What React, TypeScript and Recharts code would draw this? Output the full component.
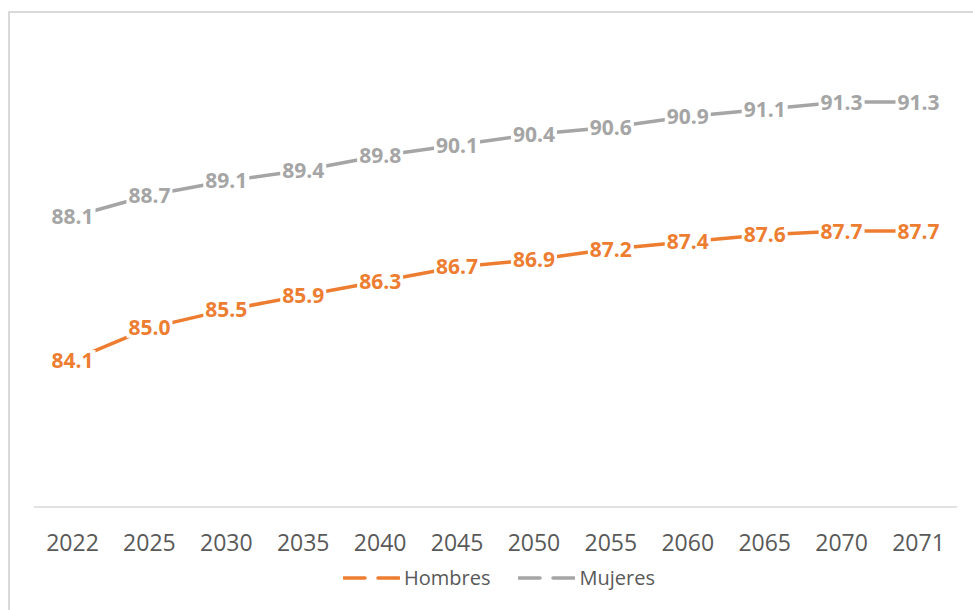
import React from 'react';
import { LineChart, Line, XAxis, YAxis, LabelList } from 'recharts';

const years = ['2022', '2025', '2030', '2035', '2040', '2045', '2050', '2055', '2060', '2065', '2070', '2071'];
const hombres = [84.1, 85.0, 85.5, 85.9, 86.3, 86.7, 86.9, 87.2, 87.4, 87.6, 87.7, 87.7];
const mujeres = [88.1, 88.7, 89.1, 89.4, 89.8, 90.1, 90.4, 90.6, 90.9, 91.1, 91.3, 91.3];

const data = years.map((y, i) => ({ year: y, Hombres: hombres[i], Mujeres: mujeres[i] }));

const ORANGE = '#ED7D31';
const GRAY = '#A5A5A5';
const FONT = '"Open Sans", sans-serif';

const makeLabel = (color: string) => (props: any) => {
  const { x, y, value } = props;
  const w = 46;
  const h = 20;
  return (
    <g>
      <rect x={x - w / 2} y={y - h / 2} width={w} height={h} fill="#ffffff" />
      <text
        x={x}
        y={y}
        dy={7.5}
        textAnchor="middle"
        fill={color}
        fontFamily={FONT}
        fontWeight={700}
        fontSize={21}
      >
        {Number(value).toFixed(1)}
      </text>
    </g>
  );
};

const Tick = (props: any) => {
  const { x, y, payload } = props;
  return (
    <text x={x} y={y + 44} textAnchor="middle" fill="#595959" fontFamily={FONT} fontSize={23}>
      {payload.value}
    </text>
  );
};

const LegendItem = ({ color, label }: { color: string; label: string }) => (
  <div style={{ display: 'flex', alignItems: 'center', marginRight: 28 }}>
    <svg width={57} height={10} style={{ display: 'block' }}>
      <line x1={1} y1={5} x2={22} y2={5} stroke={color} strokeWidth={3.5} strokeLinecap="round" />
      <line x1={35} y1={5} x2={56} y2={5} stroke={color} strokeWidth={3.5} strokeLinecap="round" />
    </svg>
    <span style={{ fontFamily: FONT, fontSize: 20, color: '#595959', marginLeft: 4, lineHeight: '24px' }}>{label}</span>
  </div>
);

export default function App() {
  return (
    <div style={{ position: 'fixed', left: 8, top: 11, width: 965, height: 599, overflow: 'hidden', background: '#fff' }}>
      <div
        style={{
          position: 'absolute',
          left: 0,
          top: 0,
          width: 980,
          height: 640,
          border: '2px solid #d9d9d9',
        }}
      >
        <LineChart width={960} height={600} data={data} margin={{ top: 64, right: 13, left: 24, bottom: 66 }}>
          <XAxis
            dataKey="year"
            height={40}
            tickLine={false}
            tickSize={0}
            tickMargin={0}
            padding={{ left: 38.5, right: 38.5 }}
            axisLine={{ stroke: '#d9d9d9', strokeWidth: 1.5 }}
            tick={<Tick />}
            interval={0}
          />
          <YAxis hide domain={[80, 92]} />
          <Line
            dataKey="Mujeres"
            stroke={GRAY}
            strokeWidth={3.5}
            dot={false}
            isAnimationActive={false}
            strokeLinecap="round"
          >
            <LabelList dataKey="Mujeres" content={makeLabel(GRAY)} />
          </Line>
          <Line
            dataKey="Hombres"
            stroke={ORANGE}
            strokeWidth={3.5}
            dot={false}
            isAnimationActive={false}
            strokeLinecap="round"
          >
            <LabelList dataKey="Hombres" content={makeLabel(ORANGE)} />
          </Line>
        </LineChart>
        <div style={{ position: 'absolute', left: 333, top: 553, display: 'flex', alignItems: 'center' }}>
          <LegendItem color={ORANGE} label="Hombres" />
          <LegendItem color={GRAY} label="Mujeres" />
        </div>
      </div>
    </div>
  );
}
